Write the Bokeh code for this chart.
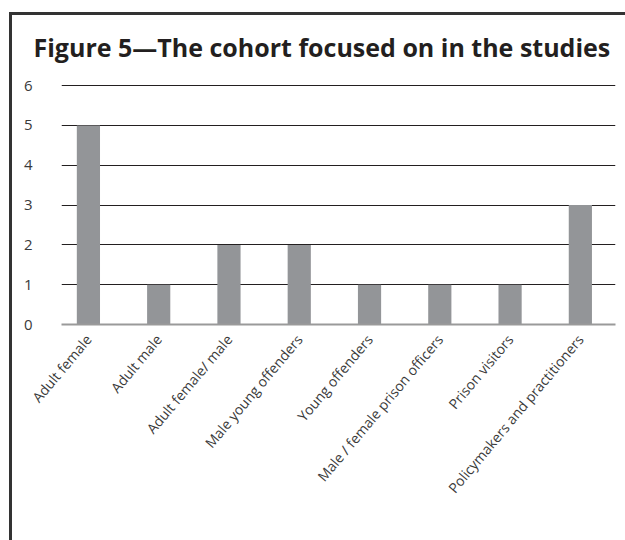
import math
from bokeh.plotting import figure
from bokeh.models import ColumnDataSource, FixedTicker, Range1d
from bokeh.embed import file_html
from bokeh.resources import INLINE

categories = [
    "Adult female",
    "Adult male",
    "Adult female/ male",
    "Male young offenders",
    "Young offenders",
    "Male / female prison officers",
    "Prison visitors",
    "Policymakers and practitioners",
]
counts = [5, 1, 2, 2, 1, 1, 1, 3]
y_ticks = [0, 1, 2, 3, 4, 5, 6]

positions = list(range(len(categories)))
source = ColumnDataSource(data=dict(x=positions, top=counts, cat=categories))

p = figure(
    width=625, height=540,
    output_backend="svg", toolbar_location=None,
    x_range=Range1d(-0.383, 7.5), y_range=Range1d(0, 6.03),
    min_border_left=61, min_border_right=10, min_border_top=84, min_border_bottom=216,
    styles={"box-shadow": "inset 9px 12px 0px 0px #ffffff, inset 12px 15px 0px 0px #333333"},
)
p.outline_line_color = None
p.background_fill_color = "white"
p.border_fill_color = None

p.vbar(x="x", top="top", bottom=0, width=0.33, source=source,
       fill_color="#939598", line_color=None)

# title
p.title.text = "Figure 5\u2014The cohort focused on in the studies"
p.title.text_font = "Open Sans"
p.title.text_font_style = "bold"
p.title.text_font_size = "25px"
p.title.text_color = "#231f20"
p.title.align = "left"
p.title.offset = -28
p.title.standoff = 42

# x axis
xa = p.xaxis[0]
xa.ticker = FixedTicker(ticks=positions)
xa.major_label_overrides = {i: c for i, c in zip(positions, categories)}
xa.major_label_orientation = math.radians(50)
xa.major_label_text_font = "Open Sans"
xa.major_label_text_font_size = "14px"
xa.major_label_text_color = "#3a3a3a"
xa.major_label_standoff = 6
xa.major_tick_line_color = None
xa.minor_tick_line_color = None
xa.axis_line_color = "#9a9a9a"
xa.axis_line_width = 2

# y axis
ya = p.yaxis[0]
ya.ticker = FixedTicker(ticks=y_ticks)
ya.major_label_text_font = "Open Sans"
ya.major_label_text_font_size = "15px"
ya.major_label_text_color = "#3a3a3a"
ya.major_label_standoff = 23
ya.major_tick_line_color = None
ya.minor_tick_line_color = None
ya.axis_line_color = None

p.xgrid.grid_line_color = None
p.ygrid.grid_line_color = "#231f20"
p.ygrid.grid_line_width = 1
p.ygrid.ticker = FixedTicker(ticks=y_ticks)

open("out.html", "w").write(file_html(p, INLINE))
